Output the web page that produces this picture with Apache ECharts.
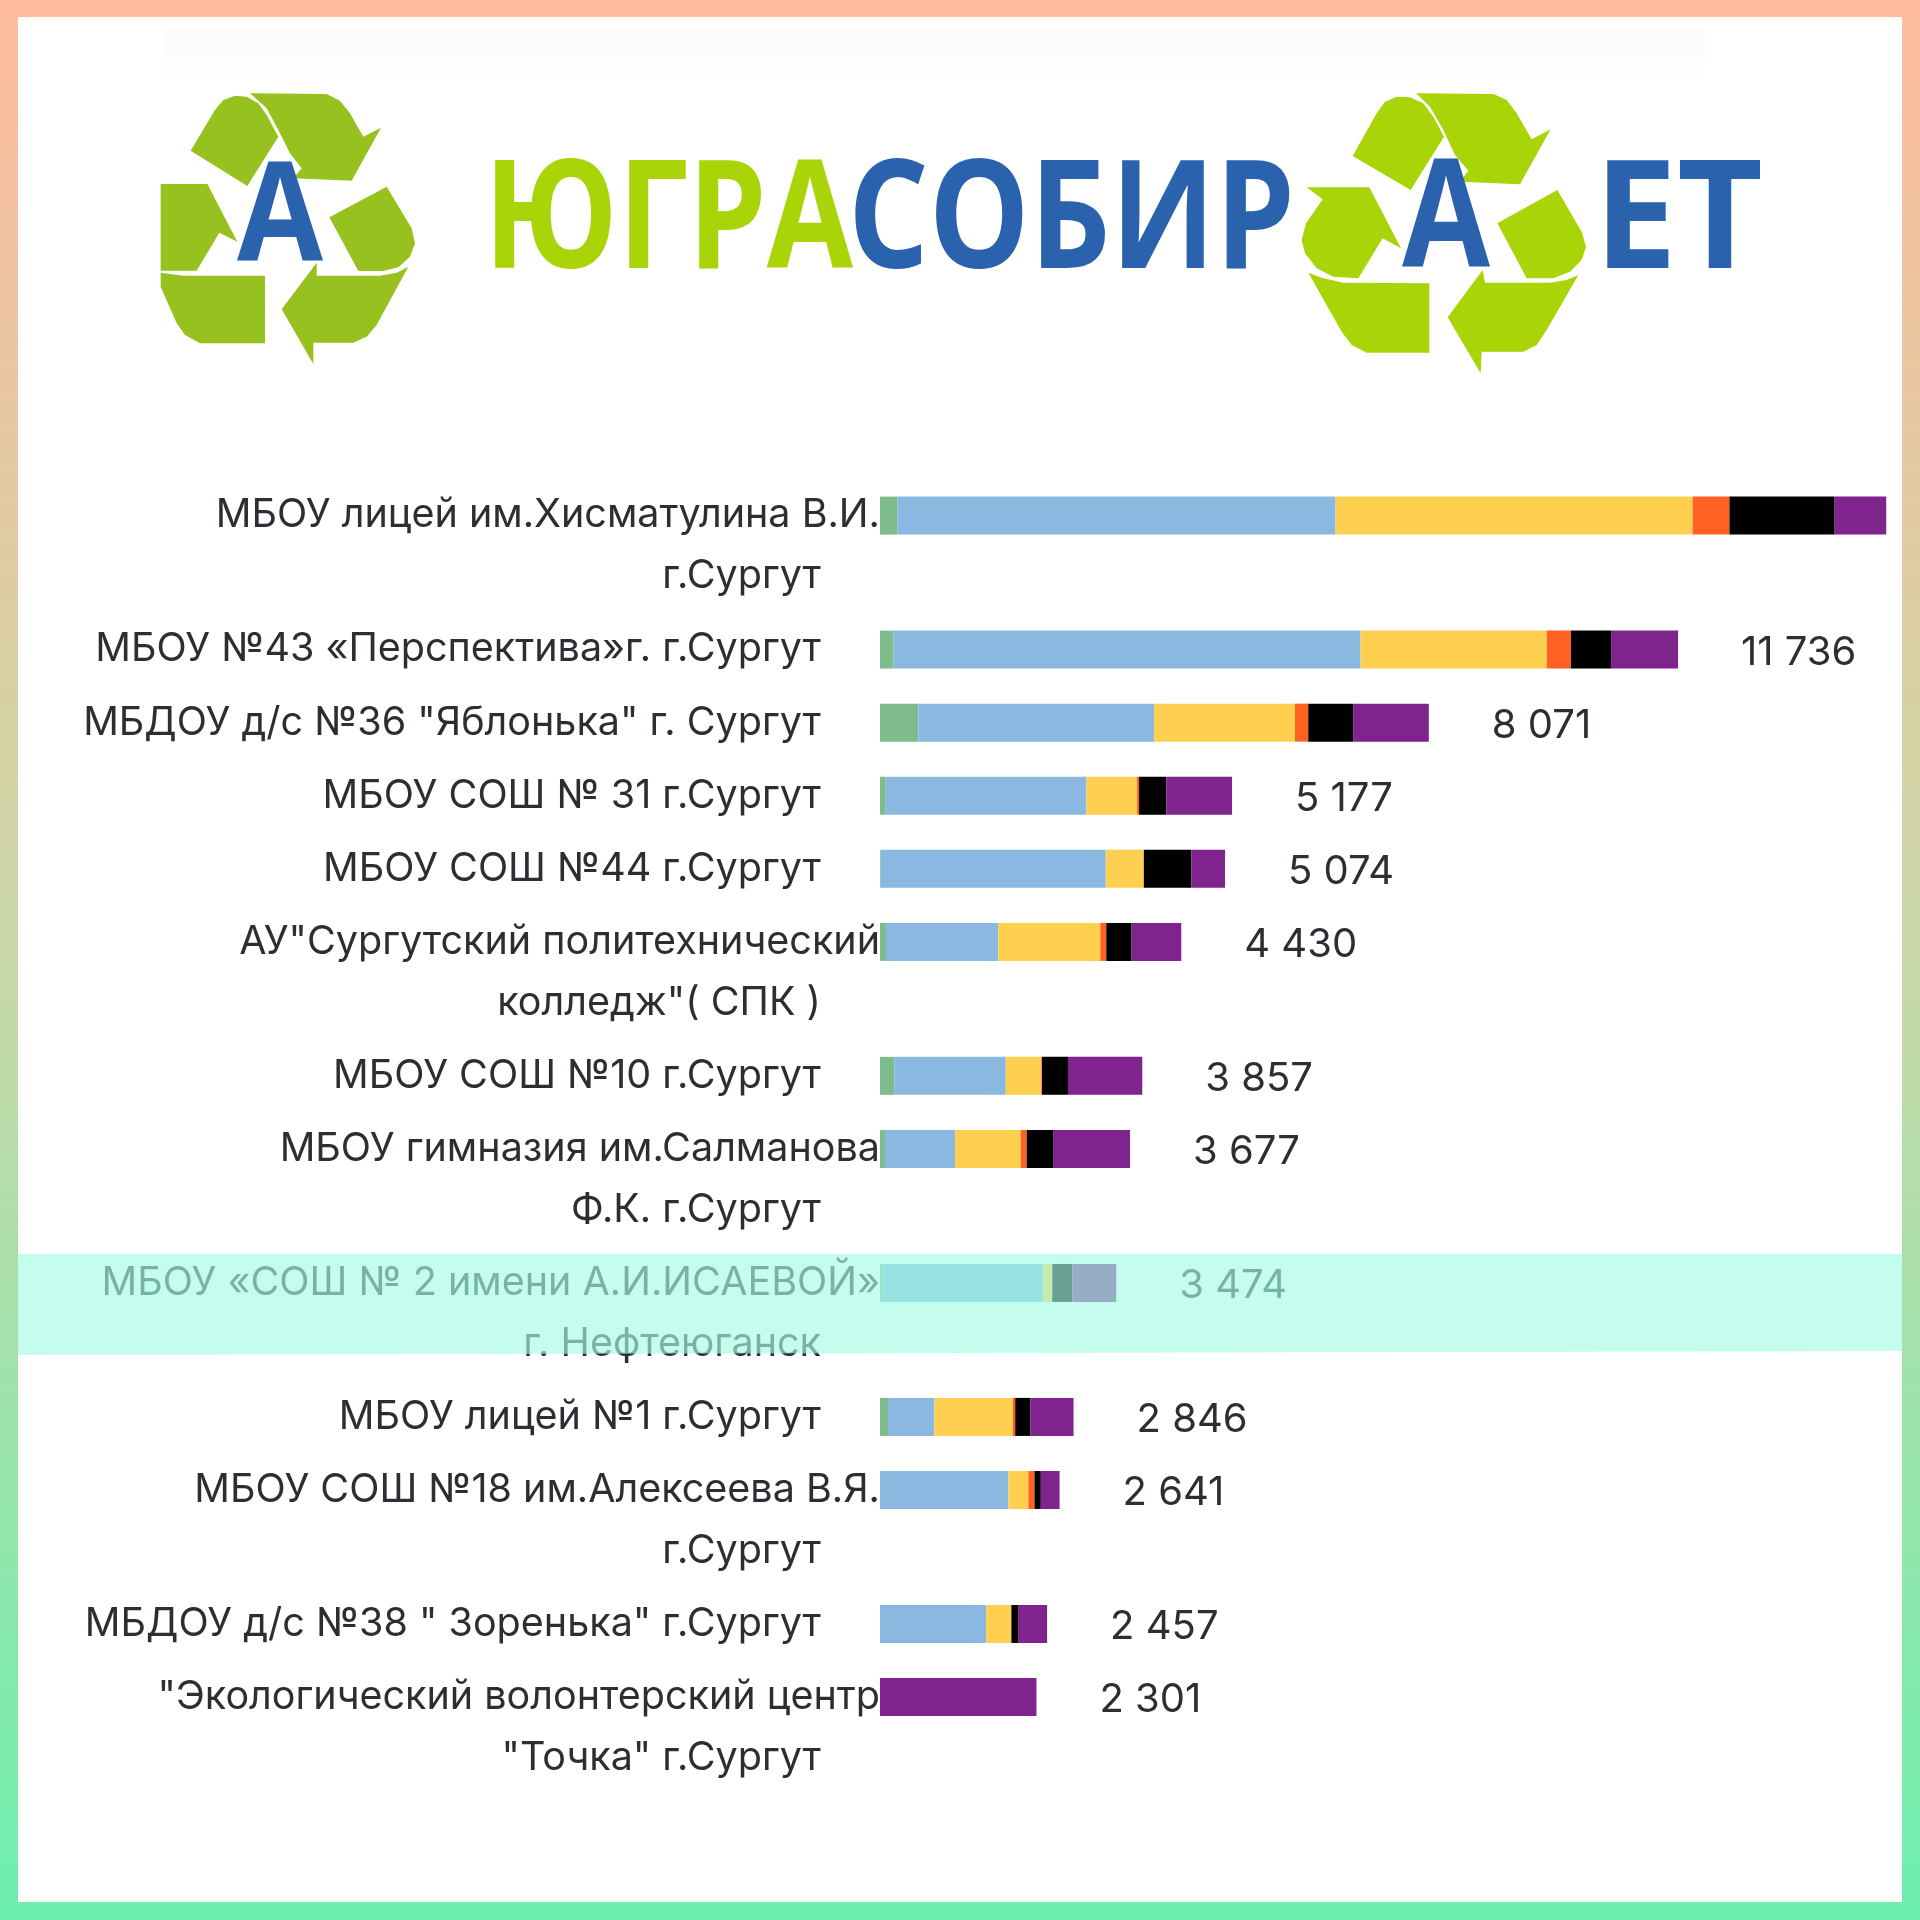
<!DOCTYPE html>
<html>
<head>
<meta charset="utf-8">
<script src="https://cdn.jsdelivr.net/npm/echarts@6/dist/echarts.min.js"></script>
<style>
  html, body { margin: 0; padding: 0; }
  body { width: 1920px; height: 1920px; position: relative; overflow: hidden;
         background: linear-gradient(180deg, #ffbc9e 0%, #c9d8a8 50%, #6cefae 100%); }
  #sheet { position: absolute; left: 18px; top: 17px; width: 1884px; height: 1885px; background: #fff; }
  #chart { position: absolute; left: 0; top: 0; width: 1920px; height: 1920px; }
</style>
</head>
<body>
<div id="sheet"></div>
<div id="chart"></div>
<script>
// Participants, top to bottom; a second line is the wrapped tail of the name.
const firstLines = [
  'МБОУ лицей им.Хисматулина В.И.', 'МБОУ №43 «Перспектива»г. г.Сургут', 'МБДОУ д/с №36 "Яблонька" г. Сургут',
  'МБОУ СОШ № 31 г.Сургут', 'МБОУ СОШ №44 г.Сургут', 'АУ"Сургутский политехнический',
  'МБОУ СОШ №10 г.Сургут', 'МБОУ гимназия им.Салманова', 'МБОУ «СОШ № 2 имени А.И.ИСАЕВОЙ»',
  'МБОУ лицей №1 г.Сургут', 'МБОУ СОШ №18 им.Алексеева В.Я.', 'МБДОУ д/с №38 " Зоренька" г.Сургут',
  '"Экологический волонтерский центр'
];
const secondLines = [
  'г.Сургут', '', '', '', '', 'колледж"( СПК )', '', 'Ф.К. г.Сургут', 'г. Нефтеюганск', '', 'г.Сургут', '', '"Точка" г.Сургут'
];
const totalLabels = ['', '11 736', '8 071', '5 177', '5 074', '4 430', '3 857', '3 677', '3 474', '2 846', '2 641', '2 457', '2 301'];

const greenVals  = [256, 197, 564, 85, 10, 88, 210, 74, 40, 118, 0, 0, 0];
const blueVals   = [6443, 6870, 3468, 2950, 3310, 1652, 1640, 1032, 2361, 682, 1888, 1563, 0];
const yellowVals = [5251, 2738, 2069, 745, 560, 1500, 522, 963, 132, 1153, 295, 369, 0];
const orangeVals = [542, 355, 197, 30, 0, 88, 10, 88, 0, 35, 89, 0, 0];
const blackVals  = [1547, 591, 660, 402, 700, 372, 382, 397, 294, 221, 93, 98, 0];
const purpleVals = [759, 985, 1113, 965, 494, 730, 1093, 1123, 647, 637, 276, 427, 2301];

const segments = [
  { name: 'green',  values: greenVals,  color: '#7fbc8c' },
  { name: 'blue',   values: blueVals,   color: '#8bb8e0' },
  { name: 'yellow', values: yellowVals, color: '#ffd04f' },
  { name: 'orange', values: orangeVals, color: '#ff6122' },
  { name: 'black',  values: blackVals,  color: '#000000' },
  { name: 'purple', values: purpleVals, color: '#7f248c' }
];

// The category axis runs on narrow slots so that a wrapped name takes more height than a single line.
const SLOT_PX = 12.18, SINGLE_SLOTS = 6, WRAPPED_SLOTS = 11, TAIL_OFFSET = 5;
const slotLabels = [], rowAtSlot = [], wrappedHeads = new Set();
firstLines.forEach((head, i) => {
  const tail = secondLines[i];
  const span = tail ? WRAPPED_SLOTS : SINGLE_SLOTS;
  const start = slotLabels.length;
  for (let s = 0; s < span; s++) { slotLabels.push(''); rowAtSlot.push(-1); }
  slotLabels[start] = head;
  rowAtSlot[start] = i;
  if (tail) { slotLabels[start + TAIL_OFFSET] = tail; wrappedHeads.add(head); }
});
const slotData = values => rowAtSlot.map(r => (r < 0 || !values[r]) ? null : values[r]);

const FONT = 'Inter';
const series = segments.map(seg => ({
  name: seg.name, type: 'bar', stack: 'total', barWidth: 38, silent: true, clip: false,
  itemStyle: { color: seg.color }, data: slotData(seg.values)
}));
// Zero-length end cap that carries the total printed after each bar.
series.push({
  name: 'total', type: 'bar', stack: 'total', barWidth: 38, silent: true, clip: false,
  itemStyle: { color: 'transparent' },
  data: rowAtSlot.map(r => (r < 0 ? null : 0)),
  label: {
    show: true, position: 'right', distance: 63, offset: [0, 3], fontFamily: FONT, fontSize: 40, color: '#2b2f33',
    formatter: p => (rowAtSlot[p.dataIndex] < 0 ? '' : totalLabels[rowAtSlot[p.dataIndex]])
  }
});

// Logo shapes, outlined on a 3:1 sketch grid and placed at an origin.
const place = (pts, ox, oy) => pts.map(p => [ox + p[0] / 3, oy + p[1] / 3]);
const leftEmblem = [
  [[122,212],[195,90],[220,60],[255,47],[290,50],[325,70],[350,105],[385,170],[292,318]],
  [[300,40],[530,42],[570,62],[600,100],[640,170],[693,143],[605,302],[430,295],[455,265],[420,220],[385,150],[350,85]],
  [[710,320],[785,445],[795,490],[780,530],[745,562],[700,573],[625,573],[538,412]],
  [[775,560],[680,735],[650,770],[610,788],[490,788],[490,852],[395,688],[500,548],[500,587],[690,587],[740,578]],
  [[32,578],[100,587],[345,587],[345,790],[150,790],[105,765],[80,730],[32,620]],
  [[32,312],[172,312],[262,485],[208,458],[140,572],[32,572]]
];
const rightEmblem = [
  [[188,228],[260,100],[285,65],[320,50],[360,52],[400,70],[430,110],[462,170],[362,330]],
  [[378,40],[610,42],[650,60],[680,100],[725,178],[782,148],[690,313],[510,305],[535,272],[495,225],[460,150],[420,80]],
  [[802,330],[875,455],[888,500],[875,540],[840,575],[790,595],[710,595],[622,430]],
  [[865,585],[770,750],[740,795],[700,815],[575,815],[572,880],[473,712],[578,570],[585,608],[780,608],[830,600]],
  [[55,578],[100,595],[160,608],[418,610],[418,818],[230,818],[185,795],[155,755]],
  [[50,322],[238,322],[333,505],[278,475],[205,595],[130,590],[80,565],[45,520],[35,480],[48,430],[98,358]]
];

// Logo lettering is stretched to its own width, whatever the font's natural advance is.
const measure = document.createElement('canvas').getContext('2d');
const LOGO_SIZE = 150;
function logoWord(text, left, right, baseline, fill, size) {
  const px = size || LOGO_SIZE;
  const font = `700 ${px}px "Open Sans"`;
  measure.font = font;
  const w = measure.measureText(text).width;
  return {
    type: 'text', x: left, y: baseline + px * 0.205, scaleX: (right - left) / w, z: 5,
    style: { text, fill, font, align: 'left', verticalAlign: 'bottom' }
  };
}
const GREEN_DARK = '#96c11f', GREEN_LIGHT = '#a8d408', BLUE = '#2a62ae';

const graphics = [
  { type: 'rect', shape: { x: 165, y: 30, width: 1540, height: 60 }, z: 1,
    style: { fill: new echarts.graphic.LinearGradient(0, 0, 0, 1, [
      { offset: 0, color: '#fbfbfb' }, { offset: 1, color: '#ffffff' }
    ]) } },
  ...leftEmblem.map(p => ({ type: 'polygon', shape: { points: place(p, 150, 80) }, style: { fill: GREEN_DARK }, z: 4 })),
  ...rightEmblem.map(p => ({ type: 'polygon', shape: { points: place(p, 1290, 80) }, style: { fill: GREEN_LIGHT }, z: 4 })),
  logoWord('А', 237, 323, 262, BLUE, 138),
  logoWord('ЮГРА', 484, 853, 270, GREEN_LIGHT),
  logoWord('СОБИР', 848, 1295, 270, BLUE),
  logoWord('А', 1402, 1490, 269, BLUE),
  logoWord('ЕТ', 1594, 1763, 270, BLUE),
  // Translucent highlight strip across one row.
  { type: 'polygon', shape: { points: [[18,1254],[1902,1254],[1902,1351],[18,1355]] },
    style: { fill: 'rgba(162,252,228,0.64)' }, z: 100 }
];

const chart = echarts.init(document.getElementById('chart'), null, { renderer: 'canvas' });
chart.setOption({
  animation: false,
  backgroundColor: 'transparent',
  grid: { left: 880, top: 509.5, width: 1020, height: slotLabels.length * SLOT_PX },
  xAxis: { type: 'value', min: 0, max: 15000, show: false },
  yAxis: {
    type: 'category', inverse: true, data: slotLabels,
    axisLine: { show: false }, axisTick: { show: false }, splitLine: { show: false },
    axisLabel: {
      interval: 0, margin: 0, hideOverlap: false,
      formatter: v => (v ? (wrappedHeads.has(v) ? `{head|${v}}` : `{line|${v}}`) : ''),
      rich: {
        head: { fontFamily: FONT, fontSize: 39.5, color: '#2b2f33', padding: [0, 0, 0, 0] },
        line: { fontFamily: FONT, fontSize: 39.5, color: '#2b2f33', padding: [0, 59, 0, 0] }
      }
    }
  },
  series,
  graphic: { elements: graphics }
});
</script>
</body>
</html>
